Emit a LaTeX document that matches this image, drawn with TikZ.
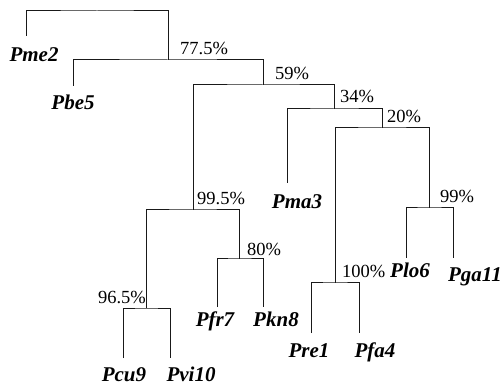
\documentclass[tikz,border=0pt]{standalone}
\usepackage{fontspec}
\setmainfont{Liberation Serif}
\begin{document}
\begin{tikzpicture}[x=1pt,y=-1pt,
  branch/.style={draw=black!90,line width=1pt},
  taxon/.style={font=\fontsize{21}{21}\selectfont\bfseries\itshape,anchor=base,inner sep=0pt},
  support/.style={font=\fontsize{18.5}{18.5}\selectfont,anchor=base west,inner sep=0pt}]
\useasboundingbox (0,0) rectangle (504,385);
% internal nodes (stem x, bracket y)
\coordinate (root) at (97,11);
\coordinate (n775) at (168,60);
\coordinate (n59) at (263,85);
\coordinate (n995) at (193,210);
\coordinate (n965) at (146,308);
\coordinate (n80) at (239,259);
\coordinate (n34) at (334,109);
\coordinate (n20) at (382,128);
\coordinate (n100) at (335,283);
\coordinate (n99) at (429,208);
% leaf tips
\coordinate (tPme2) at (26,36);
\coordinate (tPbe5) at (73,86);
\coordinate (tPcu9) at (123,358);
\coordinate (tPvi10) at (170,358);
\coordinate (tPfr7) at (217,307);
\coordinate (tPkn8) at (263,307);
\coordinate (tPma3) at (287,183);
\coordinate (tPre1) at (311,333);
\coordinate (tPfa4) at (359,333);
\coordinate (tPlo6) at (406,258);
\coordinate (tPga11) at (453,258);
% branches
\draw[branch] (tPme2) |- (root) -| (n775);
\draw[branch] (tPbe5) |- (n775) -| (n59);
\draw[branch] (n995) |- (n59) -| (n34);
\draw[branch] (n965) |- (n995) -| (n80);
\draw[branch] (tPcu9) |- (n965) -| (tPvi10);
\draw[branch] (tPfr7) |- (n80) -| (tPkn8);
\draw[branch] (tPma3) |- (n34) -| (n20);
\draw[branch] (n100) |- (n20) -| (n99);
\draw[branch] (tPre1) |- (n100) -| (tPfa4);
\draw[branch] (tPlo6) |- (n99) -| (tPga11);
% taxon names
\node[taxon] (Pme2) at (34,62) {Pme2};
\node[taxon] (Pbe5) at (73,110) {Pbe5};
\node[taxon] (Pma3) at (297,209) {Pma3};
\node[taxon] (Pfr7) at (215,326) {Pfr7};
\node[taxon] (Pkn8) at (276,326) {Pkn8};
\node[taxon] (Pcu9) at (124,381) {Pcu9};
\node[taxon] (Pvi10) at (191,381) {Pvi10};
\node[taxon] (Pre1) at (309,357) {Pre1};
\node[taxon] (Pfa4) at (375,357) {Pfa4};
\node[taxon] (Plo6) at (410,278) {Plo6};
\node[taxon] (Pga11) at (475,282) {Pga11};
% bootstrap support values
\node[support] (s775) at (180,55) {77.5\%};
\node[support] (s59) at (275,80) {59\%};
\node[support] (s34) at (340,103) {34\%};
\node[support] (s20) at (387,123) {20\%};
\node[support] (s99) at (440,203) {99\%};
\node[support] (s995) at (197,205) {99.5\%};
\node[support] (s80) at (247,255) {80\%};
\node[support,anchor=base east] (s965) at (146,303) {96.5\%};
\node[support] (s100) at (342,277) {100\%};
\end{tikzpicture}
\end{document}
